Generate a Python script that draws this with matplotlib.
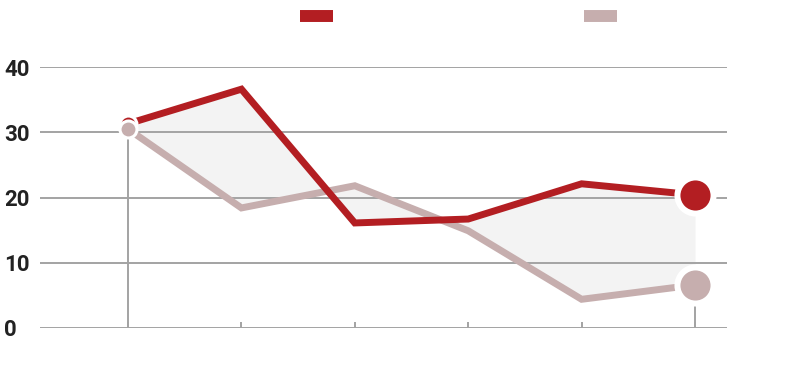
import matplotlib.pyplot as plt
from matplotlib.lines import Line2D

# data
x = [0, 1, 2, 3, 4, 5]
series_a = [31.3, 36.6, 16.1, 16.7, 22.1, 20.4]
series_b = [30.5, 18.4, 21.8, 14.9, 4.4, 6.6]
yticks = [0, 10, 20, 30, 40]

red = "#b31e22"
pink = "#c6aeae"
grid_col = "#a3a3a3"

plt.rcParams["font.family"] = ["Roboto", "DejaVu Sans"]

fig = plt.figure(figsize=(8.08, 3.72), dpi=100)
ax = fig.add_axes([40 / 808, 44 / 372, 687 / 808, 261 / 372])

ax.set_xlim(-0.776, 5.282)
ax.set_ylim(0, 40)

# shaded gap between the two series
ax.fill_between(x, series_a, series_b, color="#f3f3f3", lw=0, zorder=1)

# horizontal grid
ax.set_yticks(yticks)
ax.yaxis.grid(True, color=grid_col, lw=1.4, zorder=2)
ax.set_axisbelow(False)
ax.tick_params(axis="y", length=0, pad=26, labelsize=16, labelcolor="#222222")
for lab in ax.get_yticklabels():
    lab.set_horizontalalignment("left")
    lab.set_fontweight("bold")

# x ticks (short marks up from baseline), no labels
ax.set_xticks(x)
ax.set_xticklabels([])
ax.tick_params(axis="x", direction="in", length=4.5, width=1.4, color=grid_col)

for s in ax.spines.values():
    s.set_visible(False)

# drop lines at first and last point
for i in (0, len(x) - 1):
    ax.vlines(x[i], 0, min(series_a[i], series_b[i]), color=grid_col, lw=1.4, zorder=2)

ax.plot(x, series_a, color=red, lw=5, solid_joinstyle="miter", zorder=4, clip_on=False)
ax.plot(x, series_b, color=pink, lw=5, solid_joinstyle="miter", zorder=3, clip_on=False)

# end-point markers
ax.plot(x[0], series_a[0], "o", ms=12.2, mfc=red, mec="white", mew=2.2, zorder=5, clip_on=False)
ax.plot(x[0], series_b[0], "o", ms=12.2, mfc=pink, mec="white", mew=2.2, zorder=6, clip_on=False)
ax.plot(x[-1], series_a[-1], "o", ms=26, mfc=red, mec="white", mew=4.3, zorder=5, clip_on=False)
ax.plot(x[-1], series_b[-1], "o", ms=26, mfc=pink, mec="white", mew=4.3, zorder=6, clip_on=False)

# legend swatches without text
handles = [
    Line2D([0], [0], color=red, lw=8.6, solid_capstyle="butt"),
    Line2D([0], [0], color=pink, lw=8.6, solid_capstyle="butt"),
]
fig.legend(
    handles,
    [" ", " "],
    ncol=2,
    loc="upper left",
    bbox_to_anchor=(300 / 808, 1 - 10 / 372),
    frameon=False,
    fontsize=10,
    handlelength=2.37,
    handletextpad=0,
    columnspacing=17.8,
    borderpad=0,
    borderaxespad=0,
)

fig.savefig("out.png", dpi=100)
